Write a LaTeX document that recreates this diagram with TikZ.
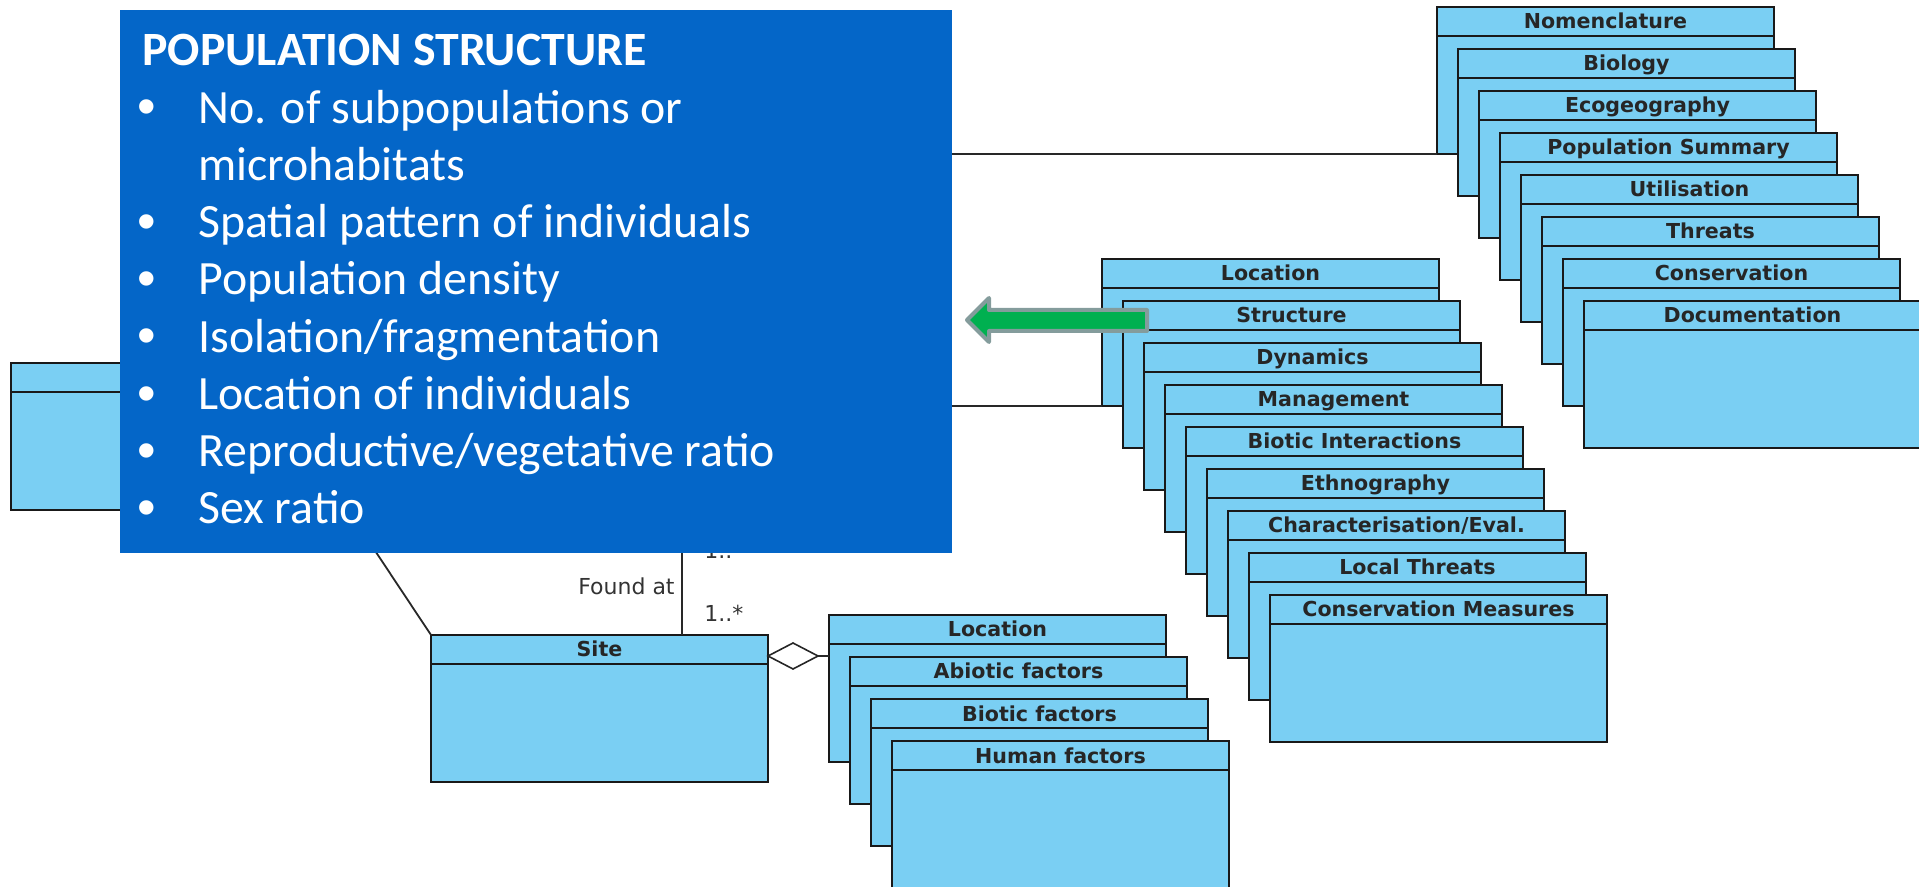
\documentclass[tikz,border=0pt]{standalone}
\usepackage{fontspec}
\setmainfont{Carlito}
\newfontfamily\umlfont{DejaVu Sans}
\newfontfamily\bulfont{Liberation Sans}
\usetikzlibrary{shapes.geometric}
\definecolor{umlfill}{RGB}{122,207,243}
\definecolor{popblue}{RGB}{4,102,200}
\definecolor{arrgreen}{RGB}{0,176,80}
\definecolor{arrgray}{RGB}{132,156,156}
\definecolor{lineclr}{RGB}{40,40,40}
\tikzset{
 uml/.style={draw=black!90, line width=1pt, fill=umlfill, rectangle, inner sep=0pt, outer sep=0pt,
   minimum width=168.5pt, minimum height=73.5pt, anchor=north west},
 umlsep/.style={draw=black!90, line width=1pt},
 umltitle/.style={font=\umlfont\bfseries\fontsize{10.3}{12}\selectfont, text=black!85, anchor=base, inner sep=0pt},
 conn/.style={draw=lineclr, line width=0.9pt},
 lbl/.style={font=\umlfont\fontsize{11}{13}\selectfont, text=black!80, inner sep=0pt},
 poptext/.style={font=\fontsize{23.9}{28}\selectfont, text=white, anchor=base west, inner sep=0pt},
 bul/.style={font=\bulfont\fontsize{26.5}{30}\selectfont, text=white, anchor=base, inner sep=0pt},
}
\newcommand\umlcls[4]{%
 \node[uml] (#1) at (#2,#3) {};
 \draw[umlsep] ([yshift=-14.5pt]#1.north west) -- ([yshift=-14.5pt]#1.north east);
 \node[umltitle] (#1-t) at ([yshift=-11pt]#1.north) {#4};
}
\begin{document}
\begin{tikzpicture}[x=0.5pt,y=-0.5pt]
\useasboundingbox (0,0) rectangle (1919,887);
\clip (0,0) rectangle (1919,887);
% hidden connector ends
\coordinate (hA) at (760,154);
\coordinate (hB) at (760,0);
\coordinate (vA) at (682,480);
% left class (title hidden)
\node[uml] (lft) at (11,363) {};
\draw[umlsep] ([yshift=-14.5pt]lft.north west) -- ([yshift=-14.5pt]lft.north east);
% top-right stack
\foreach \t [count=\i from 0] in {Nomenclature,Biology,Ecogeography,Population Summary,Utilisation,Threats,Conservation,Documentation}
 {\umlcls{tr\i}{1437+21*\i}{7+42*\i}{\t}}
% middle stack
\foreach \t [count=\i from 0] in {Location,Structure,Dynamics,Management,Biotic Interactions,Ethnography,Characterisation/Eval.,Local Threats,Conservation Measures}
 {\umlcls{m\i}{1102+21*\i}{259+42*\i}{\t}}
% bottom stack
\foreach \t [count=\i from 0] in {Location,Abiotic factors,Biotic factors,Human factors}
 {\umlcls{b\i}{829+21*\i}{615+42*\i}{\t}}
% site
\umlcls{site}{431}{635}{Site}
% connectors
\draw[conn] (hA) -- (tr0.south west);
\draw[conn] (hB |- m0.south west) -- (m0.south west);
\draw[conn] (vA) -- (vA |- site.north);
\draw[conn] (lft.south east) -- (site.north west);
\node[diamond, draw=black!85, line width=0.8pt, fill=white, minimum width=25pt, minimum height=13pt,
      inner sep=0pt, outer sep=0pt, anchor=west] (agg) at ([yshift=-10.5pt]site.north east) {};
\draw[conn] (agg.east) -- (agg.east -| b0.west);
\node[lbl, anchor=base east] (foundat) at (675,595) {Found at};
\node[lbl, anchor=base west] (mult1) at (704,622) {1..*};
\node[lbl, anchor=base west] (mult2) at (704,559) {1..};
% blue overlay
\node[fill=popblue, inner sep=0pt, outer sep=0pt, minimum width=416pt, minimum height=271.5pt, anchor=north west] (pop) at (120,10) {};
\node[poptext, font=\bfseries\fontsize{23.9}{28}\selectfont] (ptitle) at (142,66) {POPULATION STRUCTURE};
\node[bul] (bu1) at (147,125) {•};
\node[poptext] (it1) at (198,123.25) {No. of subpopulations or};
\node[poptext] (it1b) at (198,180.5) {microhabitats};
\node[bul] (bu2) at (147,239.5) {•};
\node[poptext] (it2) at (198,237.75) {Spatial pattern of individuals};
\node[bul] (bu3) at (147,296.75) {•};
\node[poptext] (it3) at (198,295) {Population density};
\node[bul] (bu4) at (147,354) {•};
\node[poptext] (it4) at (198,352.25) {Isolation/fragmentation};
\node[bul] (bu5) at (147,411.25) {•};
\node[poptext] (it5) at (198,409.5) {Location of individuals};
\node[bul] (bu6) at (147,468.5) {•};
\node[poptext] (it6) at (198,466.75) {Reproductive/vegetative ratio};
\node[bul] (bu7) at (147,525.75) {•};
\node[poptext] (it7) at (198,524) {Sex ratio};
% green arrow
\draw[draw=arrgray, line width=2pt, fill=arrgreen, line join=round]
  (967,320) -- (989,298) -- (989,310) -- (1147,310) -- (1147,331) -- (989,331) -- (989,342) -- cycle;
\end{tikzpicture}
\end{document}
